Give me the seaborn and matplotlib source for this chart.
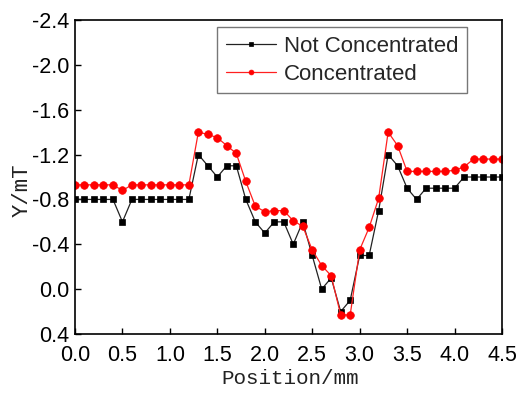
import numpy as np
import pandas as pd
import matplotlib
matplotlib.use("Agg")
import matplotlib.pyplot as plt
import seaborn as sns

positions = [round(0.1 * i, 1) for i in range(46)]
not_concentrated = [-0.8, -0.8, -0.8, -0.8, -0.8, -0.6, -0.8, -0.8, -0.8, -0.8,
                    -0.8, -0.8, -0.8, -1.2, -1.1, -1.0, -1.1, -1.1, -0.8, -0.6,
                    -0.5, -0.6, -0.6, -0.4, -0.6, -0.3, 0.0, -0.1, 0.2, 0.1,
                    -0.3, -0.3, -0.7, -1.2, -1.1, -0.9, -0.8, -0.9, -0.9, -0.9,
                    -0.9, -1.0, -1.0, -1.0, -1.0, -1.0]
concentrated = [-0.93, -0.93, -0.93, -0.93, -0.93, -0.88, -0.93, -0.93, -0.93, -0.93,
                -0.93, -0.93, -0.93, -1.40, -1.38, -1.35, -1.28, -1.21, -0.96, -0.74,
                -0.69, -0.70, -0.70, -0.61, -0.56, -0.35, -0.21, -0.12, 0.23, 0.23,
                -0.35, -0.55, -0.81, -1.40, -1.28, -1.05, -1.05, -1.05, -1.05, -1.05,
                -1.06, -1.09, -1.16, -1.16, -1.16, -1.16]
series_names = ["Not Concentrated", "Concentrated"]
y_ticks = [-2.4, -2.0, -1.6, -1.2, -0.8, -0.4, 0.0, 0.4]
x_ticks = [0.0, 0.5, 1.0, 1.5, 2.0, 2.5, 3.0, 3.5, 4.0, 4.5]

df = pd.DataFrame({
    "Position": positions * 2,
    "Y": not_concentrated + concentrated,
    "Series": [series_names[0]] * len(positions) + [series_names[1]] * len(positions),
})

sns.set_style("white")
plt.rcParams['font.family'] = ['Liberation Sans', 'DejaVu Sans']

fig = plt.figure(figsize=(5.26, 3.94), dpi=100)
ax = fig.add_axes([75/526, 1-334/394, (502-75)/526, (334-20)/394])

sns.lineplot(data=df[df.Series == series_names[0]], x="Position", y="Y", ax=ax,
             color="#222222", linewidth=0.9, marker="s", markersize=5,
             markerfacecolor="black", markeredgecolor="black", markeredgewidth=0.5,
             label=series_names[0], errorbar=None)
sns.lineplot(data=df[df.Series == series_names[1]], x="Position", y="Y", ax=ax,
             color="#ff2020", linewidth=0.9, marker="o", markersize=5.5,
             markerfacecolor="#ff0000", markeredgecolor="#ff0000", markeredgewidth=0.5,
             label=series_names[1], errorbar=None)

ax.set_xlim(0, 4.5)
ax.set_ylim(0.4, -2.4)
ax.set_xticks(x_ticks)
ax.set_xticklabels([f"{v:.1f}" for v in x_ticks])
ax.set_yticks(y_ticks)
ax.set_yticklabels([f"{v:.1f}" for v in y_ticks])
ax.tick_params(direction="in", length=4, width=1, labelsize=15.5, colors="black",
               left=True, bottom=True, top=False, right=False)
ax.tick_params(axis="y", pad=4)
ax.tick_params(axis="x", pad=8)
for s in ax.spines.values():
    s.set_visible(True)
    s.set_color("black")
    s.set_linewidth(1.2)
ax.grid(False)

ax.set_xlabel("Position/mm", family=["Liberation Mono", "DejaVu Sans Mono"],
              fontsize=15, color="#222222")
ax.xaxis.set_label_coords((290-75)/(502-75), -(379-334)/(334-20), transform=ax.transAxes)
ax.xaxis.label.set_va("center")
ax.set_ylabel("Y/mT", family=["Liberation Mono", "DejaVu Sans Mono"],
              fontsize=16, color="#222222")
ax.yaxis.set_label_coords(-(75-22)/(502-75), (334-190)/(334-20), transform=ax.transAxes)
ax.yaxis.label.set_va("center")

leg = ax.legend(loc="upper left", bbox_to_anchor=(217/526, 1-27/394),
                bbox_transform=fig.transFigure, fontsize=16, frameon=True,
                fancybox=False, edgecolor="#555555", handlelength=2.25,
                borderpad=0.4, labelspacing=0.3, handletextpad=0.36,
                borderaxespad=0)
leg.get_frame().set_linewidth(1.0)
for h in leg.legend_handles:
    h.set_markersize(3.5)

fig.savefig("out.png", dpi=100)
